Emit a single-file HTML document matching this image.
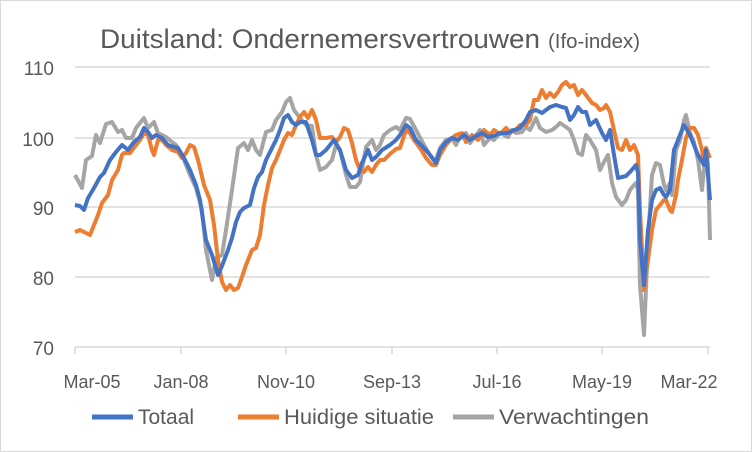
<!DOCTYPE html><html><head><style>body{margin:0;background:#fff}svg{display:block}</style></head><body>
<svg width="752" height="452" xmlns="http://www.w3.org/2000/svg" font-family="Liberation Sans, sans-serif">
<rect x="0.5" y="0.5" width="751" height="451" fill="#fff" stroke="#d9d9d9"/>
<text x="100" y="48" font-size="27" fill="#595959" textLength="440" lengthAdjust="spacingAndGlyphs">Duitsland: Ondernemersvertrouwen</text>
<text x="548" y="48" font-size="20" fill="#595959" textLength="92" lengthAdjust="spacingAndGlyphs">(Ifo-index)</text>
<g stroke="#d9d9d9" stroke-width="1.5">
<line x1="75" y1="67" x2="710" y2="67"/><line x1="75" y1="138" x2="710" y2="138"/><line x1="75" y1="207" x2="710" y2="207"/><line x1="75" y1="277" x2="710" y2="277"/><line x1="75" y1="347" x2="710" y2="347"/>
<line x1="75" y1="347" x2="75" y2="354"/><line x1="181" y1="347" x2="181" y2="354"/><line x1="286" y1="347" x2="286" y2="354"/><line x1="392" y1="347" x2="392" y2="354"/><line x1="497" y1="347" x2="497" y2="354"/><line x1="602" y1="347" x2="602" y2="354"/><line x1="708" y1="347" x2="708" y2="354"/>
</g>
<g font-size="19" fill="#595959" text-anchor="end">
<text x="54" y="75">110</text><text x="54" y="146">100</text><text x="54" y="215">90</text><text x="54" y="285">80</text><text x="54" y="355">70</text></g>
<g font-size="18" fill="#595959" text-anchor="middle">
<text x="92" y="388">Mar-05</text><text x="181" y="388">Jan-08</text><text x="286" y="388">Nov-10</text><text x="392" y="388">Sep-13</text><text x="497" y="388">Jul-16</text><text x="602" y="388">May-19</text><text x="689" y="388">Mar-22</text></g>
<g fill="none" stroke-width="4" stroke-linejoin="round">
<polyline stroke="#a5a5a5" points="75,175 82,188 86,160 92,156 96,135 100,143 106,124 112,122 118,132 122,130 126,138 132,138 136,128 144,118 148,128 154,122 158,133 166,137 172,142 176,145 182,155 190,175 196,188 202,210 206,250 212,280 216,258 222,255 226,230 232,190 238,148 244,143 248,150 252,140 256,150 260,155 266,132 272,130 276,120 282,112 286,102 290,98 294,110 300,118 306,125 312,126 316,155 320,170 326,167 332,160 336,145 340,150 346,175 350,187 356,187 360,182 366,147 372,140 376,150 380,145 384,135 390,130 396,127 400,130 406,118 410,119 416,130 424,145 430,155 434,160 436,160 440,148 446,140 452,138 456,145 460,136 466,133 470,143 474,138 480,130 484,145 490,138 494,140 500,133 508,137 512,130 516,133 522,132 526,127 530,130 536,118 540,128 546,132 552,130 556,127 560,123 566,127 570,130 574,140 578,153 582,155 586,135 590,140 596,150 600,170 604,162 608,155 612,183 616,197 622,205 626,200 630,190 634,185 636,183 638,190 640,285 644,335 648,240 652,175 656,163 660,165 664,185 666,190 670,183 672,195 676,150 680,140 684,120 686,115 690,133 694,142 698,160 702,190 704,170 706,148 708,165 710,240"/>
<polyline stroke="#ed7d31" points="75,232 80,230 84,232 90,235 94,225 98,215 102,203 108,195 112,180 118,170 122,155 124,153 130,153 136,145 140,140 144,133 148,135 152,150 154,155 158,140 162,140 166,145 172,150 178,152 182,158 186,153 190,145 194,147 198,160 204,185 210,200 214,225 218,260 222,282 226,290 230,285 234,290 238,288 242,277 246,265 252,250 256,248 260,235 264,205 268,185 272,168 276,160 280,150 284,140 288,133 292,135 296,125 300,117 304,112 308,118 312,110 316,120 320,138 326,138 332,137 336,142 340,137 344,128 348,130 352,143 356,160 360,170 364,172 368,167 372,172 376,165 380,160 384,160 390,154 396,149 400,148 406,130 410,133 414,140 420,148 426,158 432,165 436,165 440,155 446,145 452,138 456,135 462,133 466,142 472,135 478,140 484,130 490,135 494,130 500,134 506,128 510,132 516,130 520,125 526,125 530,120 534,100 538,100 542,90 546,98 550,93 554,97 558,92 562,85 566,82 570,87 574,85 578,95 582,90 586,95 592,103 596,105 600,110 604,108 606,105 610,112 614,130 618,148 622,150 626,140 630,150 634,145 638,155 640,210 644,290 648,260 652,230 656,210 660,205 664,200 666,200 670,210 672,212 676,195 678,180 682,160 686,138 690,128 694,128 698,135 702,150 704,165 706,148 710,158"/>
<polyline stroke="#4472c4" points="75,205 80,206 84,210 88,198 94,188 100,177 104,173 110,160 116,152 122,145 128,150 134,142 140,137 144,128 148,132 152,138 156,135 162,138 168,145 174,147 178,148 184,158 190,170 196,185 200,200 206,240 212,255 218,275 222,266 228,250 232,238 236,222 240,212 244,208 250,205 254,188 258,177 262,172 266,160 272,148 276,140 280,130 284,118 288,115 292,122 296,125 300,122 306,122 312,140 316,155 320,155 326,150 334,140 340,150 346,170 352,178 358,175 362,163 368,150 372,160 376,157 382,150 390,145 396,140 400,135 406,125 410,128 416,140 424,148 430,155 436,163 440,150 446,142 452,138 458,140 464,135 470,140 476,136 482,133 488,137 494,136 500,133 508,133 514,130 520,128 526,120 530,112 536,110 542,113 550,107 556,105 562,107 566,108 570,120 574,115 578,107 582,112 586,112 590,125 596,120 602,133 606,140 610,130 614,155 618,178 626,176 630,172 636,165 638,173 640,240 644,285 648,230 652,200 656,190 660,188 664,195 666,197 670,190 674,150 678,140 684,125 690,135 698,155 704,165 706,150 710,200"/>
</g>
<g stroke-width="5">
<line x1="92" y1="417" x2="133" y2="417" stroke="#4472c4"/>
<line x1="238" y1="417" x2="279" y2="417" stroke="#ed7d31"/>
<line x1="453" y1="417" x2="494" y2="417" stroke="#a5a5a5"/></g>
<g font-size="21" fill="#595959">
<text x="138" y="424">Totaal</text><text x="284" y="424" textLength="150" lengthAdjust="spacingAndGlyphs">Huidige situatie</text><text x="499" y="424" textLength="150" lengthAdjust="spacingAndGlyphs">Verwachtingen</text></g>
</svg></body></html>
